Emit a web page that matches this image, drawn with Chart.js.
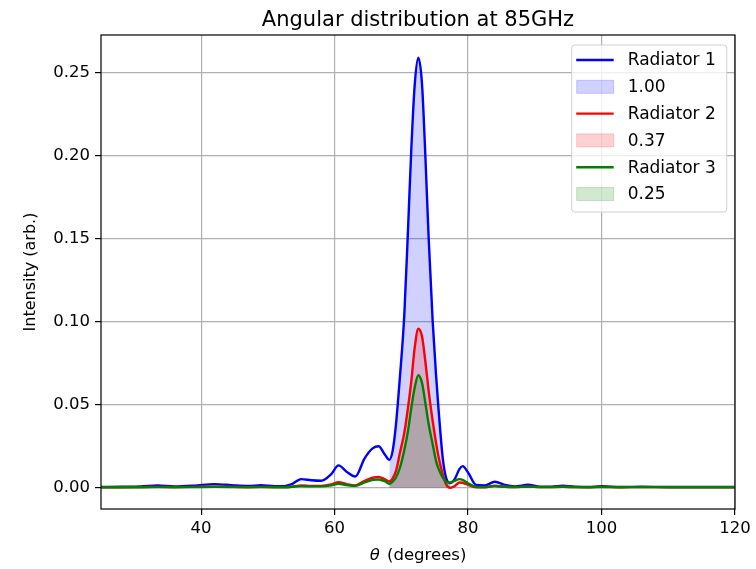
<!DOCTYPE html>
<html>
<head>
<meta charset="utf-8">
<script src="https://cdn.jsdelivr.net/npm/chart.js@4.4.1/dist/chart.umd.min.js"></script>
<style>
html, body { margin: 0; padding: 0; background: #fff; }
#wrap { width: 756px; height: 569px; }
</style>
</head>
<body>
<div id="wrap"><canvas id="myChart" width="756" height="569"></canvas></div>
<script>
// angle (degrees)
var theta = [25, 28, 31, 33.5, 36, 39, 42, 45, 47, 49, 51, 52.5, 53.5, 55, 56.5, 58, 59.5, 60.6, 61.8, 63.1,
	64.5, 65.7, 66.6, 67.5, 68.2, 68.7, 69.2, 69.8, 70.45, 71, 71.5, 72, 72.55, 73.1, 73.6, 74.1, 74.7, 75.2,
	75.6, 76.2, 76.7, 77.3, 78, 78.7, 79.2, 80, 81.2, 82.5, 84, 85.5, 87, 89, 90.8, 92.5, 94.2, 96, 98, 100,
	103, 106, 110, 115, 120];

var radiator1 = [0.0003, 0.0004, 0.0006, 0.0012, 0.0006, 0.0011, 0.0020, 0.0012, 0.0009, 0.0013, 0.0007, 0.0008,
	0.0018, 0.0050, 0.0043, 0.0040, 0.0080, 0.0133, 0.0095, 0.0066, 0.0175, 0.0235, 0.0248, 0.0200, 0.0166,
	0.022, 0.038, 0.067, 0.104, 0.155, 0.204, 0.242, 0.2588, 0.243, 0.200, 0.150, 0.100, 0.068, 0.046, 0.018,
	0.006, 0.0026, 0.0050, 0.0110, 0.0128, 0.0090, 0.0015, 0.0012, 0.0034, 0.0015, 0.0006, 0.0016, 0.0005,
	0.0005, 0.0010, 0.0004, 0.0003, 0.0007, 0.0003, 0.0004, 0.0003, 0.0003, 0.0003];

var radiator2 = [0.0001, 0.0001, 0.0002, 0.0003, 0.0002, 0.0003, 0.0005, 0.0003, 0.0002, 0.0003, 0.0002, 0.0002,
	0.0004, 0.0012, 0.0009, 0.0009, 0.0018, 0.0032, 0.0020, 0.0012, 0.0040, 0.0058, 0.0063, 0.0050, 0.0036,
	0.0055, 0.0100, 0.0210, 0.0330, 0.0480, 0.0640, 0.0840, 0.0956, 0.0910, 0.0760, 0.0580, 0.0400, 0.0270,
	0.0180, 0.0080, 0.0020, -0.0002, 0.0008, 0.0030, 0.0028, 0.0015, 0.0001, 0.0001, 0.0010, 0.0004, 0.0002,
	0.0005, 0.0002, 0.0002, 0.0004, 0.0002, 0.0001, 0.0003, 0.0001, 0.0002, 0.0001, 0.0001, 0.0001];

var radiator3 = [0.0001, 0.0001, 0.0001, 0.0002, 0.0001, 0.0002, 0.0003, 0.0002, 0.0001, 0.0002, 0.0001, 0.0001,
	0.0003, 0.0008, 0.0006, 0.0006, 0.0012, 0.0022, 0.0014, 0.0009, 0.0030, 0.0045, 0.0048, 0.0038, 0.0022,
	0.0035, 0.0060, 0.0120, 0.0226, 0.0340, 0.0480, 0.0600, 0.0676, 0.0630, 0.0510, 0.0380, 0.0260, 0.0160,
	0.0110, 0.0060, 0.0036, 0.0030, 0.0040, 0.0050, 0.0045, 0.0025, 0.0003, 0.0002, 0.0008, 0.0004, 0.0002,
	0.0004, 0.0002, 0.0002, 0.0003, 0.0002, 0.0001, 0.0002, 0.0001, 0.0002, 0.0001, 0.0001, 0.0001];

var fillFrom = 68.2;
var fillTo = 77.3;

var title = "Angular distribution at 85GHz";
var names = ["Radiator 1", "Radiator 2", "Radiator 3"];
var shares = ["1.00", "0.37", "0.25"];
var xTicks = [40, 60, 80, 100, 120];
var yTicks = [0, 0.05, 0.10, 0.15, 0.20, 0.25];

var lineColors = ["#0000ff", "#ff0000", "#008000"];
var fillColors = ["rgba(0,0,255,0.18)", "rgba(255,0,0,0.18)", "rgba(0,128,0,0.18)"];
var font = "DejaVu Sans";

function points(ys, lo, hi) {
	var out = [];
	for (var i = 0; i < theta.length; i++) {
		if (theta[i] >= lo && theta[i] <= hi) out.push({x: theta[i], y: ys[i]});
	}
	return out;
}

var series = [radiator1, radiator2, radiator3];
var datasets = [];
for (var k = 0; k < series.length; k++) {
	datasets.push({
		label: names[k],
		data: points(series[k], -Infinity, Infinity),
		borderColor: lineColors[k],
		borderWidth: 2.4,
		pointRadius: 0,
		cubicInterpolationMode: "monotone",
		fill: false,
		order: 10 - 2 * k
	});
	datasets.push({
		label: shares[k],
		data: points(series[k], fillFrom, fillTo),
		borderWidth: 0,
		borderColor: "rgba(0,0,0,0)",
		backgroundColor: fillColors[k],
		pointRadius: 0,
		cubicInterpolationMode: "monotone",
		fill: "origin",
		order: 9 - 2 * k
	});
}

// box legend in the upper right, like the original
var boxLegend = {
	id: "boxLegend",
	afterDraw: function (chart) {
		var ctx = chart.ctx, a = chart.chartArea;
		var w = 155, h = 167;
		var x0 = a.right - 8.3 - w, y0 = a.top + 10;
		ctx.save();
		ctx.beginPath();
		if (ctx.roundRect) ctx.roundRect(x0, y0, w, h, 3); else ctx.rect(x0, y0, w, h);
		ctx.fillStyle = "rgba(255,255,255,0.8)";
		ctx.fill();
		ctx.strokeStyle = "#d0d0d0";
		ctx.lineWidth = 1;
		ctx.stroke();
		ctx.font = "17px '" + font + "'";
		ctx.textBaseline = "middle";
		for (var k = 0; k < 3; k++) {
			var yl = y0 + 15 + k * 53.6;
			var yf = yl + 26.8;
			ctx.beginPath();
			ctx.moveTo(x0 + 4.5, yl);
			ctx.lineTo(x0 + 42, yl);
			ctx.strokeStyle = lineColors[k];
			ctx.lineWidth = 2.4;
			ctx.stroke();
			ctx.fillStyle = fillColors[k];
			ctx.fillRect(x0 + 5, yf - 6.5, 37, 13);
			ctx.strokeStyle = fillColors[k];
			ctx.lineWidth = 1;
			ctx.strokeRect(x0 + 5, yf - 6.5, 37, 13);
			ctx.fillStyle = "#000";
			ctx.fillText(names[k], x0 + 56, yl + 1);
			ctx.fillText(shares[k], x0 + 56, yf + 1);
		}
		ctx.restore();
	}
};

// axes frame, title over the plot area and the x label with an italic theta
var frame = {
	id: "frame",
	afterDatasetsDraw: function (chart) {
		var ctx = chart.ctx, a = chart.chartArea;
		var cx = (a.left + a.right) / 2;
		ctx.save();
		ctx.strokeStyle = "#000";
		ctx.lineWidth = 1.2;
		ctx.strokeRect(a.left, a.top, a.right - a.left, a.bottom - a.top);
		ctx.fillStyle = "#000";
		ctx.textBaseline = "alphabetic";
		ctx.textAlign = "center";
		ctx.font = "21px '" + font + "'";
		ctx.fillText(title, cx, a.top - 9.5);

		var sym = "θ", rest = " (degrees)";
		ctx.textAlign = "left";
		ctx.font = "italic 16.5px '" + font + "'";
		var w1 = ctx.measureText(sym).width + 2;
		ctx.font = "16.5px '" + font + "'";
		var w2 = ctx.measureText(rest).width;
		var by = a.bottom + 51;
		var x = cx - (w1 + w2) / 2;
		ctx.font = "italic 16.5px '" + font + "'";
		ctx.fillText(sym, x, by);
		ctx.font = "16.5px '" + font + "'";
		ctx.fillText(rest, x + w1, by);
		ctx.restore();
	}
};

new Chart("myChart", {
	type: "line",
	data: {datasets: datasets},
	plugins: [frame, boxLegend],
	options: {
		responsive: false,
		animation: false,
		devicePixelRatio: 1,
		layout: {padding: {left: 0, right: 21, top: 35, bottom: 0}},
		plugins: {
			legend: {display: false},
			tooltip: {enabled: false},
			title: {display: false}
		},
		scales: {
			x: {
				type: "linear",
				min: 25,
				max: 120,
				afterBuildTicks: function (s) { s.ticks = xTicks.map(function (v) { return {value: v}; }); },
				afterFit: function (s) { s.height = 60; },
				border: {display: false},
				grid: {color: "#b0b0b0", lineWidth: 1.2, tickLength: 6, tickColor: "#000", tickWidth: 1.2},
				ticks: {
					color: "#000", font: {family: font, size: 16.5}, padding: 4, maxRotation: 0, autoSkip: false,
					callback: function (v) { return String(v); }
				},
				title: {display: false}
			},
			y: {
				type: "linear",
				min: -0.013,
				max: 0.2725,
				afterBuildTicks: function (s) { s.ticks = yTicks.map(function (v) { return {value: v}; }); },
				afterFit: function (s) { s.width = 101; },
				border: {display: false},
				grid: {color: "#b0b0b0", lineWidth: 1.2, tickLength: 6, tickColor: "#000", tickWidth: 1.2},
				ticks: {
					color: "#000", font: {family: font, size: 16.5}, padding: 5, autoSkip: false,
					callback: function (v) { return v.toFixed(2); }
				},
				title: {
					display: true, text: "Intensity (arb.)", color: "#000",
					font: {family: font, size: 16, lineHeight: 1.2}, padding: {top: 21.5, bottom: 0}
				}
			}
		}
	}
});
</script>
</body>
</html>
